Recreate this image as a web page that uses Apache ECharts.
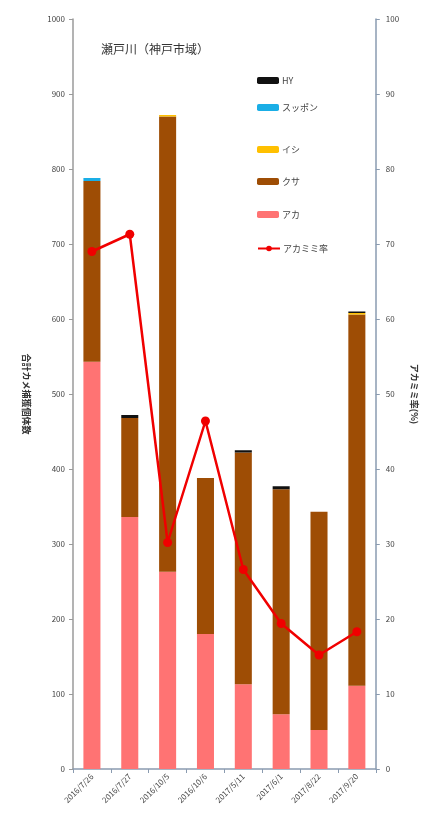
<!DOCTYPE html>
<html>
<head>
<meta charset="utf-8">
<script src="https://cdn.jsdelivr.net/npm/echarts@6/dist/echarts.min.js"></script>
<style>
  html, body { margin: 0; padding: 0; background: #fff; }
  #chart { width: 427px; height: 819px; }
</style>
</head>
<body>
<div id="chart"></div>
<script>
// Survey dates
var categories = ['2016/7/26', '2016/7/27', '2016/10/5', '2016/10/6', '2017/5/11', '2017/6/1', '2017/8/22', '2017/9/20'];
// Captured turtles per species (stacked bottom to top)
var aka     = [543, 336, 263, 180, 113, 73, 52, 111];
var kusa    = [241, 132, 607, 208, 309, 300, 291, 495];
var ishi    = [0, 0, 2, 0, 0, 0, 0, 2];
var suppon  = [4, 0, 0, 0, 0, 0, 0, 0];
var hy      = [0, 4, 0, 0, 3, 4, 0, 2];
// Share of red-eared sliders (%)
var akaRate = [69.0, 71.3, 30.2, 46.4, 26.6, 19.4, 15.2, 18.3];
// Axis ticks
var leftTicks  = [0, 100, 200, 300, 400, 500, 600, 700, 800, 900, 1000];
var rightTicks = [0, 10, 20, 30, 40, 50, 60, 70, 80, 90, 100];

var FONT = '"Noto Sans CJK JP", "Noto Sans", sans-serif';
var TXT = '#444';

var barSeries = [
  { name: 'アカ',     data: aka,    color: '#FF7373' },
  { name: 'クサ',     data: kusa,   color: '#9E4D05' },
  { name: 'イシ',     data: ishi,   color: '#FFC000' },
  { name: 'スッポン', data: suppon, color: '#1AAEE6' },
  { name: 'HY',       data: hy,     color: '#111111' }
].map(function (s) {
  return {
    name: s.name, type: 'bar', stack: 'total', yAxisIndex: 0,
    data: s.data, barWidth: '45%',
    itemStyle: { color: s.color },
    emphasis: { disabled: true }
  };
});

var lineSeries = {
  name: 'アカミミ率', type: 'line', yAxisIndex: 1, data: akaRate,
  symbol: 'circle', symbolSize: 9,
  lineStyle: { color: '#F00000', width: 2.5 },
  itemStyle: { color: '#F00000' },
  z: 5
};

// One legend block per entry so each row sits at its own height
var legendRows = [
  { name: 'HY', top: 71 },
  { name: 'スッポン', top: 98 },
  { name: 'イシ', top: 140 },
  { name: 'クサ', top: 172 },
  { name: 'アカ', top: 205 },
  { name: 'アカミミ率', top: 239 }
];

var chart = echarts.init(document.getElementById('chart'), null, { renderer: 'canvas' });
chart.setOption({
  animation: false,
  backgroundColor: '#fff',
  title: {
    text: '瀬戸川（神戸市域）', left: 96, top: 38,
    textStyle: { fontFamily: FONT, fontSize: 12, fontWeight: 'normal', color: '#333' }
  },
  legend: legendRows.map(function (r) {
    return {
      data: [r.name], left: 252, top: r.top, orient: 'vertical',
      itemWidth: 22, itemHeight: 7, itemGap: 0,
      textStyle: { fontFamily: FONT, fontSize: 9, color: TXT, padding: [0, 0, 0, -2] },
      selectedMode: false
    };
  }),
  grid: { left: 73, right: 49, top: 19, bottom: 50 },
  xAxis: {
    type: 'category', data: categories,
    axisLine: { lineStyle: { color: '#8a9bb0', width: 1.5 } },
    axisTick: { show: true, length: 4, lineStyle: { color: '#8a9bb0' } },
    axisLabel: { rotate: 45, fontFamily: FONT, fontSize: 8, color: TXT, margin: 6 }
  },
  yAxis: [
    {
      type: 'value', min: leftTicks[0], max: leftTicks[leftTicks.length - 1], interval: 100,
      name: '合計カメ捕獲個体数', nameLocation: 'middle', nameGap: 42, nameRotate: -90,
      nameTextStyle: { fontFamily: FONT, fontSize: 9, color: '#333', fontWeight: 'bold' },
      axisLine: { show: true, lineStyle: { color: '#9a9a9a', width: 1.5 } },
      axisTick: { show: true, length: 4, lineStyle: { color: '#9a9a9a' } },
      axisLabel: { fontFamily: FONT, fontSize: 8, color: TXT, margin: 8,
        formatter: function (v) { return String(v); } },
      splitLine: { show: false }
    },
    {
      type: 'value', min: rightTicks[0], max: rightTicks[rightTicks.length - 1], interval: 10,
      name: 'アカミミ率(%)', nameLocation: 'middle', nameGap: 34, nameRotate: -90,
      nameTextStyle: { fontFamily: FONT, fontSize: 9, color: '#333', fontWeight: 'bold' },
      axisLine: { show: true, lineStyle: { color: '#8a9bb0', width: 1.5 } },
      axisTick: { show: true, length: 4, lineStyle: { color: '#8a9bb0' } },
      axisLabel: { fontFamily: FONT, fontSize: 8, color: TXT, margin: 10 },
      splitLine: { show: false }
    }
  ],
  series: barSeries.concat([lineSeries])
});
</script>
</body>
</html>
